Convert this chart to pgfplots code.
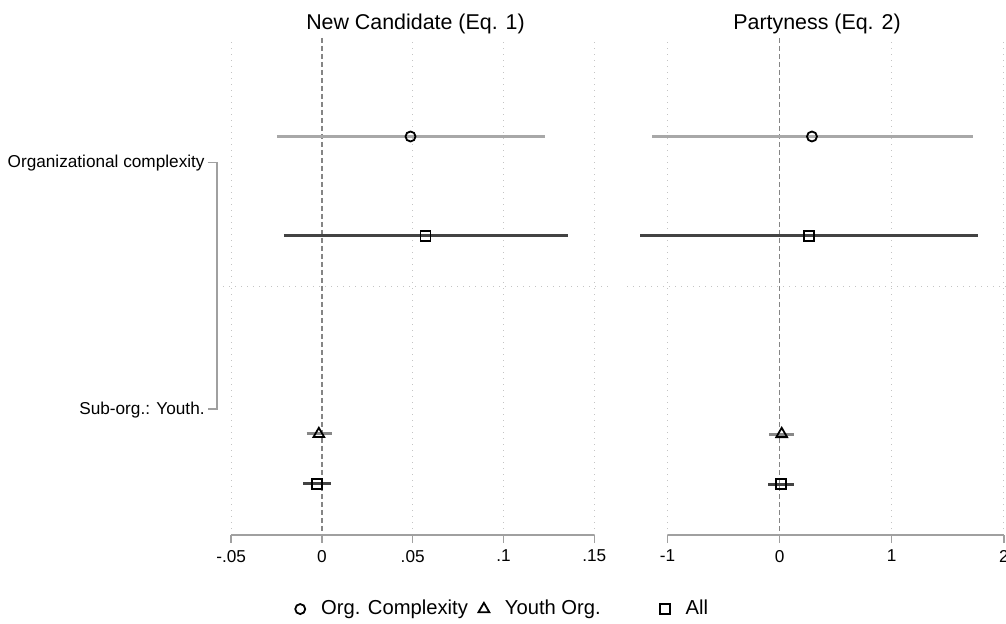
\documentclass[border=0pt]{standalone}
\usepackage{pgfplots}
\pgfplotsset{compat=1.18}
\usepackage{fontspec}
\setmainfont{Liberation Sans}

\definecolor{cilight}{HTML}{A8A8A8}
\definecolor{cimid}{HTML}{888888}
\definecolor{cidark}{HTML}{434343}
\definecolor{gridc}{HTML}{C4C4C4}
\definecolor{axisc}{HTML}{A0A0A0}
\definecolor{zeroc}{HTML}{858585}

\newcommand{\lblfont}{\fontsize{8.6}{10}\selectfont}
\newcommand{\ttlfont}{\fontsize{10.7}{12}\selectfont}
\newcommand{\legfont}{\fontsize{10.1}{12}\selectfont}

\pgfplotsset{
  coefpanel/.style={
    scale only axis, height=248.5pt,
    ymin=-535, ymax=-38,
    axis line style={draw=none},
    ytick={-287}, yticklabels={}, ytick style={draw=none},
    ymajorgrids, xmajorgrids,
    major grid style={gridc, line width=0.5pt, dash pattern=on 0.5pt off 2.5pt},
    xtick pos=bottom, tick align=outside,
    major tick length=4pt,
    xtick style={axisc, line width=0.7pt},
    xticklabel style={font=\lblfont, text=black},
    clip=false,
  },
  ci/.style={line width=1.5pt, forget plot},
  zeroline/.style={zeroc, line width=0.7pt, dash pattern=on 2.5pt off 1.5pt, forget plot},
  coef/.style={only marks, mark size=2.5pt,
    mark options={draw=black, fill=white, line width=0.9pt, solid}},
}

\begin{document}
\begin{tikzpicture}
\path[use as bounding box] (0pt,0pt) rectangle (503pt,-312pt);

% ---------- Eq. 1: new candidate ----------
\begin{axis}[coefpanel,
  at={(111.5pt,-267.5pt)}, anchor=south west,
  width=192.5pt,
  xmin=-0.0545, xmax=0.1576,
  xtick={-0.05,0,0.05,0.1,0.15},
  xticklabels={-.05,0,.05,.1,.15},
  legend columns=3,
  legend style={draw=none, fill=none, font=\legfont,
    at={(0.158,-0.149)}, anchor=west,
    /tikz/column 2/.style={column sep=1pt},
    /tikz/column 4/.style={column sep=25pt}},
  legend image code/.code={\path[draw=none, fill=none] (-5pt,0pt) -- (8.5pt,0pt);
      \draw[#1] plot coordinates {(0pt,0pt)};},
]
\addplot[draw=white, line width=1pt, forget plot] coordinates {(0,-38) (0,-535)};
\addplot[zeroline] coordinates {(0,-38) (0,-535)};
% confidence intervals
\addplot[ci, cilight] coordinates {(-0.0248,-136.5) (0.1229,-136.5)};
\addplot[ci, cidark]  coordinates {(-0.0209,-236) (0.1354,-236)};
\addplot[ci, cimid]   coordinates {(-0.0084,-434) (0.0053,-434)};
\addplot[ci, cidark]  coordinates {(-0.0103,-484) (0.0048,-484)};
% point estimates
\addplot[coef, mark=o] coordinates {(0.0488,-136.5)};
\addplot[coef, mark=triangle, mark size=3.1pt] coordinates {(-0.0017,-434)};
\addplot[coef, mark=square] coordinates {(0.0571,-236) (-0.0029,-484)};
\legend{Org. Complexity, Youth Org., All}
\draw[axisc, line width=0.7pt] (axis cs:-0.05,-535) -- (axis cs:0.15,-535);
\end{axis}

% ---------- Eq. 2: partyness ----------
\begin{axis}[coefpanel,
  at={(313.5pt,-267.5pt)}, anchor=south west,
  width=190pt,
  xmin=-1.362, xmax=2.028,
  xtick={-1,0,1,2},
  xticklabels={-1,0,1,2},
]
\addplot[draw=white, line width=1pt, forget plot] coordinates {(0,-38) (0,-535)};
\addplot[zeroline] coordinates {(0,-38) (0,-535)};
\addplot[ci, cilight] coordinates {(-1.139,-136.5) (1.722,-136.5)};
\addplot[ci, cidark]  coordinates {(-1.246,-236) (1.772,-236)};
\addplot[ci, cimid]   coordinates {(-0.093,-434) (0.128,-434)};
\addplot[ci, cidark]  coordinates {(-0.104,-484) (0.130,-484)};
\addplot[coef, mark=o] coordinates {(0.288,-136.5)};
\addplot[coef, mark=triangle, mark size=3.1pt] coordinates {(0.018,-434)};
\addplot[coef, mark=square] coordinates {(0.259,-236) (0.009,-484)};
\draw[axisc, line width=0.7pt] (axis cs:-1,-535) -- (axis cs:2,-535);
\end{axis}

% panel titles
\node[font=\ttlfont, anchor=base] at (207.75pt,-14.6pt) {New Candidate (Eq. 1)};
\node[font=\ttlfont, anchor=base] at (408.5pt,-14.6pt) {Partyness (Eq. 2)};

% group labels with bracket
\node[font=\lblfont, anchor=east, inner sep=0pt] at (102.5pt,-81.5pt) {Organizational complexity};
\node[font=\lblfont, anchor=east, inner sep=0pt] at (102.5pt,-205pt) {Sub-org.: Youth.};
\draw[axisc, line width=0.7pt] (103.8pt,-81.35pt) -- (108.4pt,-81.35pt)
  -- (108.4pt,-204.6pt) -- (103.8pt,-204.6pt);
\end{tikzpicture}
\end{document}
